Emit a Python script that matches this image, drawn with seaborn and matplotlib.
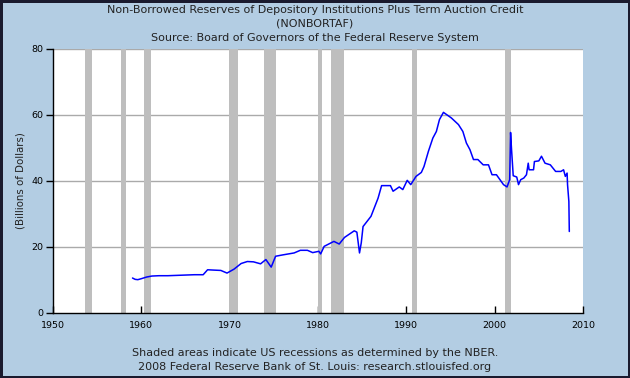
import matplotlib
matplotlib.use("Agg")
import matplotlib.pyplot as plt
import seaborn as sns
import pandas as pd

# ---- data ----
years = [1959.0, 1959.3, 1959.6, 1960.0, 1960.6, 1961.2, 1962.0, 1963.0, 1964.0, 1965.0,
         1966.0, 1967.0, 1967.5, 1968.2, 1969.0, 1969.7, 1970.5, 1971.3, 1972.0, 1972.7,
         1973.5, 1974.1, 1974.7, 1975.2, 1976.0, 1977.3, 1978.0, 1978.8, 1979.4, 1980.1,
         1980.3, 1980.7, 1981.8, 1982.4, 1983.0, 1984.1, 1984.4, 1984.7, 1984.9, 1985.1,
         1986.0, 1986.8, 1987.2, 1988.2, 1988.5, 1989.2, 1989.6, 1990.1, 1990.5, 1991.1,
         1991.7, 1992.0, 1992.5, 1993.0, 1993.4, 1993.75, 1994.2, 1995.1, 1995.9, 1996.4,
         1996.8, 1997.2, 1997.6, 1998.1, 1998.7, 1999.3, 1999.7, 2000.2, 2000.6, 2001.0,
         2001.4, 2001.7, 2001.8, 2001.9, 2002.1, 2002.5, 2002.7, 2002.95, 2003.3, 2003.6,
         2003.8, 2003.9, 2004.4, 2004.5, 2005.0, 2005.3, 2005.7, 2006.3, 2006.9, 2007.5,
         2007.8, 2008.0, 2008.2, 2008.25, 2008.4, 2008.45]
reserves = [10.6, 10.2, 10.1, 10.4, 10.9, 11.2, 11.3, 11.3, 11.4, 11.5,
            11.6, 11.6, 13.1, 13.0, 12.9, 12.1, 13.3, 15.0, 15.6, 15.5,
            14.9, 16.2, 13.9, 17.2, 17.6, 18.2, 19.0, 19.0, 18.3, 18.7,
            17.9, 20.2, 21.7, 20.9, 22.9, 24.9, 24.5, 18.2, 21.3, 26.2,
            29.3, 34.8, 38.6, 38.6, 36.9, 38.2, 37.4, 40.2, 38.9, 41.4,
            42.6, 44.4, 49.0, 53.0, 55.0, 58.6, 60.8, 59.1, 57.1, 55.0,
            51.5, 49.5, 46.5, 46.5, 44.9, 44.9, 41.9, 41.9, 40.4, 38.9,
            38.2, 40.4, 54.7, 50.0, 41.6, 41.2, 38.9, 40.4, 40.9, 41.9,
            45.4, 43.4, 43.4, 45.9, 46.1, 47.5, 45.4, 44.9, 42.9, 42.9,
            43.4, 41.4, 42.4, 38.9, 33.8, 24.7]
rec_start = [1953.6, 1957.7, 1960.3, 1969.9, 1973.9, 1980.0, 1981.5, 1990.6, 2001.2]
rec_end = [1954.4, 1958.3, 1961.1, 1970.9, 1975.2, 1980.5, 1982.9, 1991.2, 2001.9]
x_ticks = [1950, 1960, 1970, 1980, 1990, 2000, 2010]
y_ticks = [0, 20, 40, 60, 80]

title_lines = ["Non-Borrowed Reserves of Depository Institutions Plus Term Auction Credit",
               "(NONBORTAF)",
               "Source: Board of Governors of the Federal Reserve System"]
footer_lines = ["Shaded areas indicate US recessions as determined by the NBER.",
                "2008 Federal Reserve Bank of St. Louis: research.stlouisfed.org"]
y_label = "(Billions of Dollars)"

sns.set_style("white")
plt.rcParams['font.family'] = ['DejaVu Sans']

bg = '#B3CDE3'
fig = plt.figure(figsize=(6.3, 3.78), dpi=100, facecolor=bg)
fig.patch.set_edgecolor('#1a1a2e')
fig.patch.set_linewidth(2.5)
ax = fig.add_axes([53/630, 1 - 313/378, 530/630, 264/378])
ax.set_facecolor('white')

for v in y_ticks[1:]:
    ax.axhline(v, color='#AAAAAA', lw=1, zorder=1)
for s, e in zip(rec_start, rec_end):
    ax.axvspan(s, e, color='#BEBEBE', lw=0, zorder=2)

df = pd.DataFrame({'year': years, 'value': reserves})
sns.lineplot(data=df, x='year', y='value', ax=ax, color='#0000FF', lw=1.1,
             sort=False, estimator=None, zorder=3)

ax.set_xlim(1950, 2010)
ax.set_ylim(0, 80)
ax.set_xticks(x_ticks)
ax.set_yticks(y_ticks)
ax.set_xlabel('')
ax.set_ylabel(y_label, fontsize=7.4, color='#222222', labelpad=4)
ax.tick_params(axis='x', direction='in', length=5, width=1, labelsize=6.8,
               colors='black', pad=6, bottom=True)
ax.tick_params(axis='y', direction='out', length=5, width=1, labelsize=6.8,
               colors='black', pad=2, left=True)
for side in ['top', 'right']:
    ax.spines[side].set_visible(False)
for side in ['left', 'bottom']:
    ax.spines[side].set_visible(True)
    ax.spines[side].set_color('black')
    ax.spines[side].set_linewidth(1)

for i, t in enumerate(title_lines):
    fig.text(0.5, 1 - (10 + 14 * i) / 378, t, ha='center', va='center',
             fontsize=8.0, color='#222222')
for i, t in enumerate(footer_lines):
    fig.text(0.5, 1 - (353 + 14 * i) / 378, t, ha='center', va='center',
             fontsize=8.0, color='#222222')

fig.savefig('out.png', dpi=100, facecolor=bg, edgecolor=fig.patch.get_edgecolor())
